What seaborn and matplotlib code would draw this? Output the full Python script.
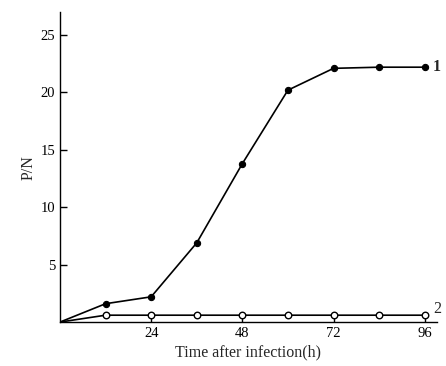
import matplotlib
matplotlib.use("Agg")
import matplotlib.pyplot as plt
import seaborn as sns
import pandas as pd

hours = [0, 12, 24, 36, 48, 60, 72, 84, 96]
series1 = [0, 1.6, 2.2, 6.9, 13.8, 20.2, 22.1, 22.2, 22.2]
series2 = [0, 0.6, 0.6, 0.6, 0.6, 0.6, 0.6, 0.6, 0.6]
curve_labels = ["1", "2"]
x_ticks = [24, 48, 72, 96]
y_ticks = [5, 10, 15, 20, 25]

sns.set_style("white")
plt.rcParams["font.family"] = ["Liberation Serif", "DejaVu Serif"]

df = pd.DataFrame({
    "hours": hours * 2,
    "value": series1 + series2,
    "curve": [curve_labels[0]] * len(hours) + [curve_labels[1]] * len(hours),
})

fig = plt.figure(figsize=(4.46, 3.66), dpi=100)
ax = fig.add_axes([0.1345, 0.12, 0.845, 0.847])

sns.lineplot(data=df, x="hours", y="value", hue="curve",
             palette=["black", "black"], linewidth=1.2, legend=False, ax=ax)

pts = df[df["hours"] > 0]
p1 = pts[pts["curve"] == "1"]
p2 = pts[pts["curve"] == "2"]
sns.scatterplot(data=p1, x="hours", y="value", color="black", s=20,
                edgecolor="black", linewidth=0.8, zorder=3, ax=ax, legend=False)
sns.scatterplot(data=p2, x="hours", y="value", facecolor="white", s=22,
                edgecolor="black", linewidth=1.0, zorder=3, ax=ax, legend=False)

ax.set_xlim(0, 99.2)
ax.set_ylim(0, 27)
ax.set_xticks(x_ticks)
ax.set_yticks(y_ticks)
ax.tick_params(left=True, bottom=True, direction="in", length=5, width=1.0,
               labelsize=10.5, colors="black")
for s in ["top", "right"]:
    ax.spines[s].set_visible(False)
for s in ["left", "bottom"]:
    ax.spines[s].set_color("black")
    ax.spines[s].set_linewidth(1.0)

ax.set_xlabel("Time after infection(h)", fontsize=11.5, labelpad=3)
ax.set_ylabel("P/N", fontsize=11.5, labelpad=3)

ax.text(hours[-1] + 2.2, series1[-1], curve_labels[0], fontsize=11.5,
        fontweight="bold", va="center", ha="left")
ax.text(hours[-1] + 2.2, series2[-1] + 0.5, curve_labels[1], fontsize=11.5,
        va="center", ha="left", clip_on=False)

fig.savefig("out.png", dpi=100)
